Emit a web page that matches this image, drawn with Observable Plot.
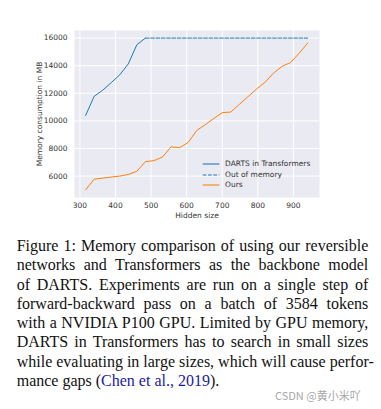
<!DOCTYPE html>
<html>
<head>
<meta charset="utf-8">
<script src="https://cdn.jsdelivr.net/npm/d3@7"></script>
<script src="https://cdn.jsdelivr.net/npm/@observablehq/plot@0.6"></script>
<style>
  html, body { margin: 0; padding: 0; background: #fff; }
  #wrap { position: relative; width: 381px; height: 409px; overflow: hidden; }
  #chart { position: absolute; left: 0; top: 0; }
  .legend { position: absolute; left: 0; top: 0; font-family: "DejaVu Sans"; font-size: 7.5px; color: #333; }
  .legend .row { position: absolute; left: 202px; height: 10px; line-height: 10px; white-space: nowrap; }
  .legend svg { position: absolute; left: 0; top: 0; }
  .legend span { position: absolute; left: 23px; top: 0; }
  #caption { position: absolute; left: 16.7px; top: 236px; width: 351.6px; font-family: "Liberation Serif"; font-size: 16px; line-height: 19.3px; color: #111; }
  #caption div { white-space: nowrap; text-align: justify; text-align-last: justify; }
  #caption div.last { text-align-last: left; }
  #caption a { color: #1a1aa8; text-decoration: none; }
  #wm { position: absolute; left: 275px; top: 387px; font-family: "Noto Sans CJK SC"; font-size: 11px; color: #a8a8a8; white-space: nowrap; line-height: 16px; }
</style>
</head>
<body>
<div id="wrap">
  <div id="chart"></div>
  <div class="legend" id="legend"></div>
  <div id="caption"></div>
  <div id="wm">CSDN @黄小米吖</div>
</div>
<script>
// ---- data ----
const dartsSize = [316, 340, 364, 388, 412, 436, 460, 484];
const dartsMem = [10400, 11780, 12220, 12770, 13340, 14130, 15520, 16000];

const oomSize = [484, 940];
const oomMem = [16000, 16000];

const oursSize = [316, 340, 364, 388, 412, 436, 460, 484, 508, 532, 556, 580, 604, 628,
                  652, 676, 700, 724, 748, 772, 796, 820, 844, 868, 892, 916, 940];
const oursMem = [5000, 5780, 5850, 5930, 6000, 6120, 6350, 7050, 7120, 7380, 8120, 8060, 8430, 9300,
                 9720, 10170, 10600, 10640, 11200, 11750, 12300, 12800, 13460, 13950, 14230, 14900, 15640];

const xTicks = [300, 400, 500, 600, 700, 800, 900];
const yTicks = [6000, 8000, 10000, 12000, 14000, 16000];

const seriesNames = ["DARTS in Transformers", "Out of memory", "Ours"];
const xLabel = "Hidden size";
const yLabel = "Memory consumption in MB";

const captionLines = [
  "Figure 1: Memory comparison of using our reversible",
  "networks and Transformers as the backbone model",
  "of DARTS. Experiments are run on a single step of",
  "forward-backward pass on a batch of 3584 tokens",
  "with a NVIDIA P100 GPU. Limited by GPU memory,",
  "DARTS in Transformers has to search in small sizes",
  "while evaluating in large sizes, which will cause perfor-",
  "mance gaps (<a>Chen et al., 2019</a>)."
];

// ---- build tables ----
const darts = dartsSize.map((x, i) => ({x, y: dartsMem[i]}));
const oom = oomSize.map((x, i) => ({x, y: oomMem[i]}));
const ours = oursSize.map((x, i) => ({x, y: oursMem[i]}));

const blue = "#1f77b4", orange = "#ff7f0e";

const chart = Plot.plot({
  width: 381,
  height: 228,
  marginLeft: 74,
  marginRight: 62,
  marginTop: 30,
  marginBottom: 31,
  style: {fontFamily: "DejaVu Sans", fontSize: "7.5px", color: "#333", background: "transparent", overflow: "visible"},
  x: {domain: [284.8, 973.2]},
  y: {domain: [4450, 16550]},
  marks: [
    Plot.frame({fill: "#eaeaf2", stroke: "none"}),
    Plot.gridX(xTicks, {stroke: "#ffffff", strokeOpacity: 1, strokeWidth: 1}),
    Plot.gridY(yTicks, {stroke: "#ffffff", strokeOpacity: 1, strokeWidth: 1}),
    Plot.axisX(xTicks, {tickSize: 0, tickPadding: 5, label: null, tickFormat: "d"}),
    Plot.axisY(yTicks, {tickSize: 0, tickPadding: 7, label: null, tickFormat: "d"}),
    Plot.line(darts, {x: "x", y: "y", stroke: blue, strokeWidth: 1}),
    Plot.line(oom, {x: "x", y: "y", stroke: blue, strokeWidth: 1, strokeDasharray: "3.7,1.6"}),
    Plot.line(ours, {x: "x", y: "y", stroke: orange, strokeWidth: 1}),
    Plot.text([xLabel], {frameAnchor: "bottom", dy: 18, lineAnchor: "middle", textAnchor: "middle", text: d => d, fill: "#333"}),
    Plot.text([yLabel], {frameAnchor: "left", dx: -35, rotate: -90, lineAnchor: "middle", textAnchor: "middle", text: d => d, fill: "#333"})
  ]
});
document.getElementById("chart").appendChild(chart);

// ---- legend ----
const legendStyles = [
  {stroke: blue, dash: null},
  {stroke: blue, dash: "3.7,1.6"},
  {stroke: orange, dash: null}
];
const legendTops = [159, 169.7, 180.3];
const legend = document.getElementById("legend");
seriesNames.forEach((name, i) => {
  const row = document.createElement("div");
  row.className = "row";
  row.style.top = legendTops[i] + "px";
  const st = legendStyles[i];
  row.innerHTML = `<svg width="18" height="10"><line x1="0.7" x2="17.3" y1="5" y2="5" stroke="${st.stroke}" stroke-width="1.1" ${st.dash ? `stroke-dasharray="${st.dash}"` : ""}/></svg><span>${name}</span>`;
  legend.appendChild(row);
});

// ---- caption ----
const cap = document.getElementById("caption");
captionLines.forEach((line, i) => {
  const d = document.createElement("div");
  if (i === captionLines.length - 1) d.className = "last";
  d.innerHTML = line;
  cap.appendChild(d);
});
</script>
</body>
</html>
